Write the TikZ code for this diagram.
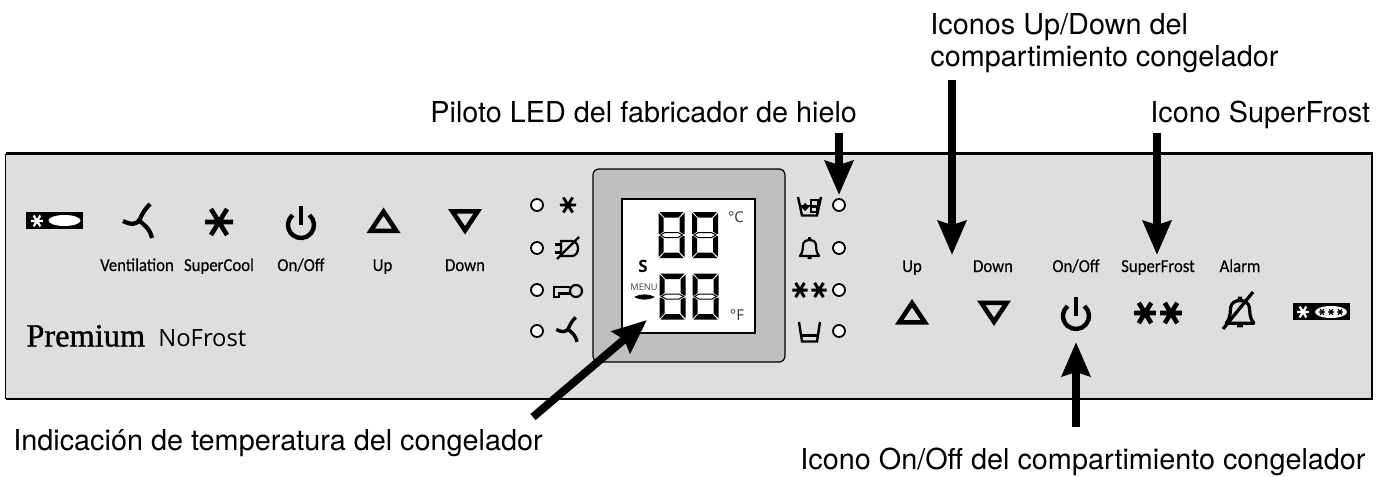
\documentclass[tikz,border=0pt]{standalone}
\usepackage{fontspec}
\usetikzlibrary{arrows.meta}
\setmainfont{TeX Gyre Heros}
\newfontfamily\panelfont[FakeBold=0.25,FakeStretch=0.92]{Carlito}
\newfontfamily\premfont[FakeBold=1]{Liberation Serif}
\newfontfamily\nofrostfont{Open Sans}
\definecolor{panelgrey}{HTML}{DEDEDE}
\definecolor{framegrey}{HTML}{BFBFBF}
\newcommand{\fs}[1]{\fontsize{#1}{#1}\selectfont}
\tikzset{
  x=0.5pt,y=-0.5pt,
  callout/.style={inner sep=0,anchor=base west,font=\fs{14.4}},
  plabel/.style={inner sep=0,anchor=base,font=\panelfont\fs{9.1}},
  pointer/.style={line width=4pt,draw=black,-{Stealth[length=17pt,width=14pt,inset=2pt]}},
  led/.style={circle,draw=black,fill=white,line width=0.9pt,minimum size=6pt,inner sep=0},
  ast/.pic={\draw (-14,0)--(14,0) (-8,-13)--(8,13) (-8,13)--(8,-13);},
  fan/.pic={\draw[line cap=butt] (-17,-2) .. controls (-9,2) and (-3,2) .. (0,-4) .. controls (2,-9) and (5,-14) .. (10,-19);
            \draw[line cap=butt] (-2,-3) .. controls (4,1) and (10,6) .. (12,15);},
  power/.pic={\draw (-50:13) arc[start angle=-50,end angle=230,radius=13];
              \draw (0,-19)--(0,0);},
  tri/.pic={\fill[even odd rule] (-17,12.5)--(17,12.5)--(0,-13)--cycle (-8.5,8)--(8.5,8)--(0,-4.6)--cycle;},
  bell/.pic={\draw[line join=round] (-9.5,8) .. controls (-6,3) and (-7,0) .. (-6.5,-3) .. controls (-6,-10) and (6,-10) .. (6.5,-3) .. controls (7,0) and (6,3) .. (9.5,8) -- cycle;
             \fill (-1.5,-11) rectangle (1.5,-7) (-2,8) rectangle (2,11);},
  lcd/.pic={
    \fill (1,0)--(25,0)--(20,5.5)--(6,5.5)--cycle (1,46)--(25,46)--(20,40.5)--(6,40.5)--cycle;
    \fill (0,1)--(5,6)--(5,19.5)--(1.5,22)--(0,22)--cycle (0,45)--(5,40)--(5,26.5)--(1.5,24)--(0,24)--cycle;
    \fill (26,1)--(21,6)--(21,19.5)--(24.5,22)--(26,22)--cycle (26,45)--(21,40)--(21,26.5)--(24.5,24)--(26,24)--cycle;
    \draw[line width=0.5pt,fill=white] (2,23)--(6.5,20.5)--(19.5,20.5)--(24,23)--(19.5,25.5)--(6.5,25.5)--cycle;
  },
}
\begin{document}
\begin{tikzpicture}
\useasboundingbox (0,0) rectangle (1385,476);
% panel
\fill[panelgrey] (5.5,153.5) rectangle (1372,399);
\draw[line width=0.5pt] (5.5,153.5)--(5.5,399);
\draw[line width=1.1pt] (5.5,153.5)--(1372,153.5)--(1372,399)--(5.5,399);
% left badge
\fill (26,212) rectangle (83,229);
\pic[white,line width=1.1pt,scale=.42] at (37,221) {ast};
\fill[white] (64.5,220.5) ellipse [x radius=16,y radius=5.5];
% left group
\pic[line width=2.1pt] at (140,223) {fan};
\pic[line width=2.3pt] at (219,222) {ast};
\pic[line width=2.2pt] at (301,225) {power};
\pic at (383.5,220.5) {tri};
\pic[yscale=-1] at (465,221.5) {tri};
\node[plabel] (lvent) at (137,271) {Ventilation};
\node[plabel] (lcool) at (219,271) {SuperCool};
\node[plabel] (lon) at (301,271) {On/Off};
\node[plabel] (lup) at (382.5,271) {Up};
\node[plabel] (ldown) at (465,271) {Down};
\node[inner sep=0,anchor=base west,font=\premfont\fs{16.2}] (prem) at (26,346.5) {Premium};
\node[inner sep=0,anchor=base west,font=\nofrostfont\fs{11.9}] (nofrost) at (158,346.5) {NoFrost};
% left LEDs
\node[led] (la) at (537,205) {};
\node[led] (lb) at (537,248) {};
\node[led] (lc) at (537,290) {};
\node[led] (ld) at (537,331) {};
\pic[line width=1.4pt,scale=.58] at (568,205) {ast};
\begin{scope}[line width=1.1pt]
 \draw (561,241)--(572,241) .. controls (576,241) and (578,245) .. (578,248.5) .. controls (578,252) and (576,256) .. (572,256)--(561,256)--cycle;
 \draw (555,244.5)--(561,244.5) (555,252.5)--(561,252.5);
 \draw[line width=1.2pt] (557,259)--(579,237);
 \draw (576,291) circle [radius=6];
 \draw[line join=miter] (570,287)--(554,287)--(554,297)--(559,297)--(559,293.5)--(570,293.5);
\end{scope}
\pic[line width=1.7pt,scale=.72] at (568.5,331) {fan};
% display
\draw[line width=0.6pt,fill=framegrey,rounded corners=3pt] (593,169) rectangle (785,362);
\draw[line width=0.6pt,fill=white] (622,199) rectangle (755,333);
\pic at (658.5,212) {lcd};
\pic at (692,212) {lcd};
\pic at (659.5,273.5) {lcd};
\pic at (692.5,273.5) {lcd};
\node[inner sep=0,font=\nofrostfont\fs{7.5},text=black!80] (degc) at (736,217) {°C};
\node[inner sep=0,font=\nofrostfont\fs{7.5},text=black!80] (degf) at (737,315) {°F};
\node[inner sep=0,font=\nofrostfont\bfseries\fs{8.5}] (slab) at (643,266) {S};
\node[inner sep=0,font=\nofrostfont\fs{4.6},text=black!75] (menu) at (644,287) {MENU};
\fill (634,297) .. controls (640,293.5) and (649,293.5) .. (655,297) .. controls (649,300.5) and (640,300.5) .. (634,297) -- cycle;
% right LEDs
\node[led] (ra) at (839,205) {};
\node[led] (rb) at (839,248) {};
\node[led] (rc) at (839,290) {};
\node[led] (rd) at (839,331) {};
\begin{scope}[line width=1.2pt]
 \draw (798,197)--(802,215.5)--(817,215.5)--(821,197);
 \draw (811,200) rectangle (818,206.5) (811,206.5) rectangle (817,212);
 \draw (800.5,206)--(811,206);
 \fill[line width=.5pt] (805,203)--(809,207)--(805,211)--(801,207)--cycle;
 \draw (799,322)--(802,341.5)--(817,341.5)--(820,322);
 \draw (802,335.5)--(817,335.5);
\end{scope}
\pic[line width=1.1pt] at (809.5,248) {bell};
\pic[line width=1.5pt,scale=.55] at (800,290) {ast};
\pic[line width=1.5pt,scale=.55] at (819,290) {ast};
% right group
\node[plabel] (rup) at (912,272) {Up};
\node[plabel] (rdown) at (993,272) {Down};
\node[plabel] (ron) at (1076,272) {On/Off};
\node[plabel] (rsf) at (1158,272) {SuperFrost};
\node[plabel] (ral) at (1240,272) {Alarm};
\pic at (912,312) {tri};
\pic[yscale=-1] at (994,313) {tri};
\pic[line width=2.2pt] at (1076,316) {power};
\pic[line width=2.3pt,scale=.78] at (1145,313) {ast};
\pic[line width=2.3pt,scale=.78] at (1171,313) {ast};
\pic[line width=1.6pt,xscale=1.45,yscale=1.4] at (1240,312) {bell};
\draw[line width=1.6pt] (1223,329)--(1253,292);
\fill (1293,303) rectangle (1350,320);
\pic[white,line width=1.1pt,scale=.42] at (1303,312) {ast};
\fill[white] (1331,312) ellipse [x radius=16,y radius=6];
\pic[line width=.6pt,scale=.22] at (1322,312) {ast};
\pic[line width=.6pt,scale=.22] at (1331,312) {ast};
\pic[line width=.6pt,scale=.22] at (1340,312) {ast};
% callouts
\node[callout] (t1) at (930,35) {Iconos Up/Down del};
\node[callout] (t2) at (930,67) {compartimiento congelador};
\node[callout] (t3) at (430,122) {Piloto LED del fabricador de hielo};
\node[callout] (t4) at (1150,122) {Icono SuperFrost};
\node[callout] (t5) at (13,450) {Indicación de temperatura del congelador};
\node[callout] (t6) at (800,469) {Icono On/Off del compartimiento congelador};
% arrows
\coordinate (a1s) at (952,80);   \coordinate (a1e) at (952,255);
\coordinate (a2s) at (839,133);  \coordinate (a2e) at (839,195);
\coordinate (a3s) at (1157,133); \coordinate (a3e) at (1157,255);
\coordinate (a4s) at (533,417);  \coordinate (a4e) at (647,320);
\coordinate (a5s) at (1076,427); \coordinate (a5e) at (1076,342);
\draw[pointer] (a1s)--(a1e);
\draw[pointer] (a2s)--(a2e);
\draw[pointer] (a3s)--(a3e);
\draw[pointer] (a4s)--(a4e);
\draw[pointer] (a5s)--(a5e);
\end{tikzpicture}
\end{document}
